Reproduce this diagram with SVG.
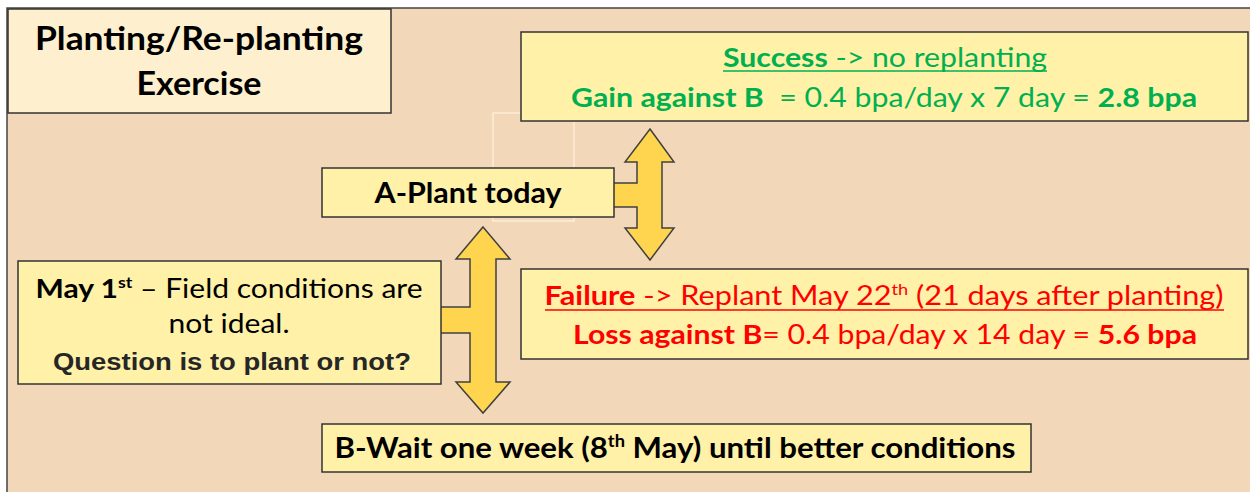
<svg xmlns="http://www.w3.org/2000/svg" width="1250" height="492" viewBox="0 0 1250 492">
<style>
.box{fill:#FFF1A8;stroke:#333;stroke-width:1.5}
.title{fill:#FEF0CE;stroke:#333;stroke-width:1.5}
.arrow{fill:#FFD550;stroke:#404040;stroke-width:1.5;stroke-linejoin:miter}
text{font-family:Lato,"Open Sans",sans-serif;text-anchor:middle}
.b{font-weight:bold}
.g{fill:#00B050}
.r{fill:#FF0000}
.k{fill:#000}
.ul{stroke-width:1.6}
</style>
<rect x="0" y="0" width="1250" height="492" fill="#FFFFFF"/>
<rect x="7" y="8" width="1250" height="490" fill="#F2D8B8" stroke="#444" stroke-width="1.5"/>
<rect x="493" y="113" width="81" height="108" fill="none" stroke="#FFF8E6" stroke-width="1"/>

<g id="connectors">
<polygon class="arrow" points="650,129 674,162 662,162 662,228 674,228 650,260 625,228 637,228 637,207 612,207 612,183 637,183 637,162 625,162"/>
<polygon class="arrow" points="483,227 510,259 496,259 496,382 510,382 483,413 456,382 470,382 470,333 439,333 439,307 470,307 470,259 456,259"/>
</g>

<g id="title">
<rect class="title" x="8" y="9" width="383" height="104"/>
<text class="b k" x="199" y="50" font-size="33" textLength="328" lengthAdjust="spacingAndGlyphs">Planting/Re-planting</text>
<text class="b k" x="199" y="95" font-size="33" textLength="125" lengthAdjust="spacingAndGlyphs">Exercise</text>
</g>

<g id="success">
<rect class="box" x="521" y="32" width="727" height="89"/>
<text class="g" x="885" y="67" font-size="27" textLength="324" lengthAdjust="spacingAndGlyphs"><tspan class="b">Success</tspan><tspan> -&gt; no replanting</tspan></text>
<line class="ul" x1="723" y1="71" x2="1047" y2="71" stroke="#00B050"/>
<text class="g" x="884" y="107" font-size="27" textLength="626" lengthAdjust="spacingAndGlyphs"><tspan class="b">Gain against B</tspan><tspan>&#160; = 0.4 bpa/day x 7 day = </tspan><tspan class="b">2.8 bpa</tspan></text>
</g>

<g id="plant">
<rect class="box" x="322" y="168" width="292" height="49"/>
<text class="b k" x="468" y="203" font-size="29" textLength="187" lengthAdjust="spacingAndGlyphs">A-Plant today</text>
</g>

<g id="failure">
<rect class="box" x="521" y="269" width="727" height="90"/>
<text class="r" x="884" y="305" font-size="27" textLength="679" lengthAdjust="spacingAndGlyphs"><tspan class="b">Failure</tspan><tspan> -&gt; Replant May 22</tspan><tspan font-size="16" dy="-10">th</tspan><tspan dy="10"> (21 days after planting)</tspan></text>
<line class="ul" x1="545" y1="310" x2="1224" y2="310" stroke="#FF0000"/>
<text class="r" x="885" y="344" font-size="27" textLength="624" lengthAdjust="spacingAndGlyphs"><tspan class="b">Loss against B</tspan><tspan>= 0.4 bpa/day x 14 day = </tspan><tspan class="b">5.6 bpa</tspan></text>
</g>

<g id="may">
<rect class="box" x="18" y="261" width="423" height="123"/>
<text class="k" x="229" y="298" font-size="27" textLength="387" lengthAdjust="spacingAndGlyphs"><tspan class="b">May 1</tspan><tspan class="b" font-size="16" dy="-10">st</tspan><tspan dy="10"> – Field conditions are</tspan></text>
<text class="k" x="229" y="333" font-size="27" textLength="121" lengthAdjust="spacingAndGlyphs">not ideal.</text>
<text x="232" y="370" font-size="23" font-weight="bold" fill="#262626" style="font-family:'Liberation Sans',Arial,sans-serif" textLength="358" lengthAdjust="spacingAndGlyphs">Question is to plant or not?</text>
</g>

<g id="wait">
<rect class="box" x="322" y="424" width="709" height="48"/>
<text class="b k" x="675" y="458" font-size="29" textLength="681" lengthAdjust="spacingAndGlyphs"><tspan>B-Wait one week (8</tspan><tspan font-size="17" dy="-11">th</tspan><tspan dy="11"> May) until better conditions</tspan></text>
</g>
</svg>
